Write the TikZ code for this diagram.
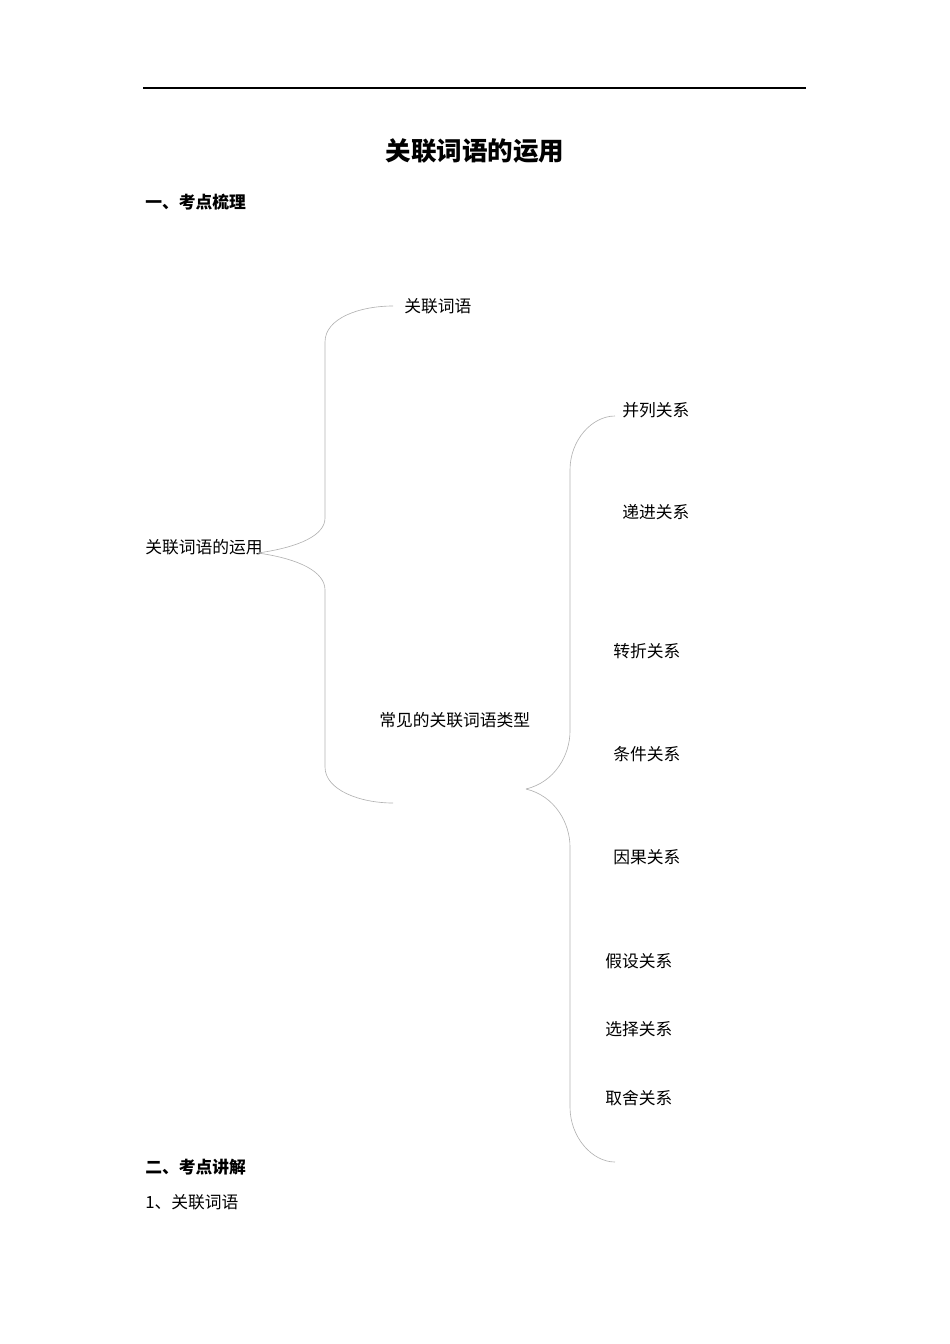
\documentclass[tikz,border=0pt]{standalone}
\usepackage{fontspec}
\setmainfont{Noto Sans CJK SC}
\usepackage{tikz}
\usetikzlibrary{positioning}

\tikzset{
  txt/.style={anchor=west, inner sep=0pt, font=\fontsize{10.5}{12}\selectfont},
  head/.style={txt, font=\fontsize{10.5}{12}\selectfont\bfseries},
  brace/.style={draw=gray!60, line width=0.4pt}
}

\begin{document}
\begin{tikzpicture}[x=0.6263pt, y=-0.6263pt]
\useasboundingbox (0,0) rectangle (950,1344);

\coordinate (rule_a) at (143, 88);
\coordinate (rule_b) at (806, 88);
\draw [line width=0.8pt] (rule_a) -- (rule_b);

\node [inner sep=0pt, font=\fontsize{16}{18}\selectfont\bfseries] (title) at (475, 151) {关联词语的运用};
\node [head] (head_a) at (145, 202) {一、考点梳理};

\node [txt] (root) at (145, 547) {关联词语的运用};
\node [txt] (w_a) at (404, 306) {关联词语};
\node [txt] (w_b) at (379, 720) {常见的关联词语类型};

\node [txt] (t_a) at (622, 410) {并列关系};
\node [txt] (t_b) at (622, 512) {递进关系};
\node [txt] (t_c) at (613, 651) {转折关系};
\node [txt] (t_d) at (613, 754) {条件关系};
\node [txt] (t_e) at (613, 857) {因果关系};
\node [txt] (t_f) at (605, 961) {假设关系};
\node [txt] (t_g) at (605, 1029) {选择关系};
\node [txt] (t_h) at (605, 1098) {取舍关系};

\node [head] (head_b) at (145, 1167) {二、考点讲解};
\node [txt] (sub_a) at (145, 1202) {1、关联词语};

% first brace
\coordinate (r_tip) at (258, 553);
\coordinate (r_a) at (393, 306);
\coordinate (r_b) at (393, 803);
\draw [brace] (r_tip) .. controls (300, 547) and (325, 535) .. (325, 518)
  -- (325, 342) .. controls (325, 318) and (360, 306) .. (r_a);
\draw [brace] (r_tip) .. controls (300, 559) and (325, 572) .. (325, 590)
  -- (325, 767) .. controls (325, 790) and (360, 803) .. (r_b);

% second brace
\coordinate (s_tip) at (526, 789);
\coordinate (s_a) at (615, 416);
\coordinate (s_b) at (615, 1162);
\draw [brace] (s_tip) .. controls (555, 782) and (570, 755) .. (570, 731)
  -- (570, 470) .. controls (570, 440) and (592, 416) .. (s_a);
\draw [brace] (s_tip) .. controls (555, 796) and (570, 823) .. (570, 847)
  -- (570, 1107) .. controls (570, 1137) and (592, 1162) .. (s_b);
\end{tikzpicture}
\end{document}
